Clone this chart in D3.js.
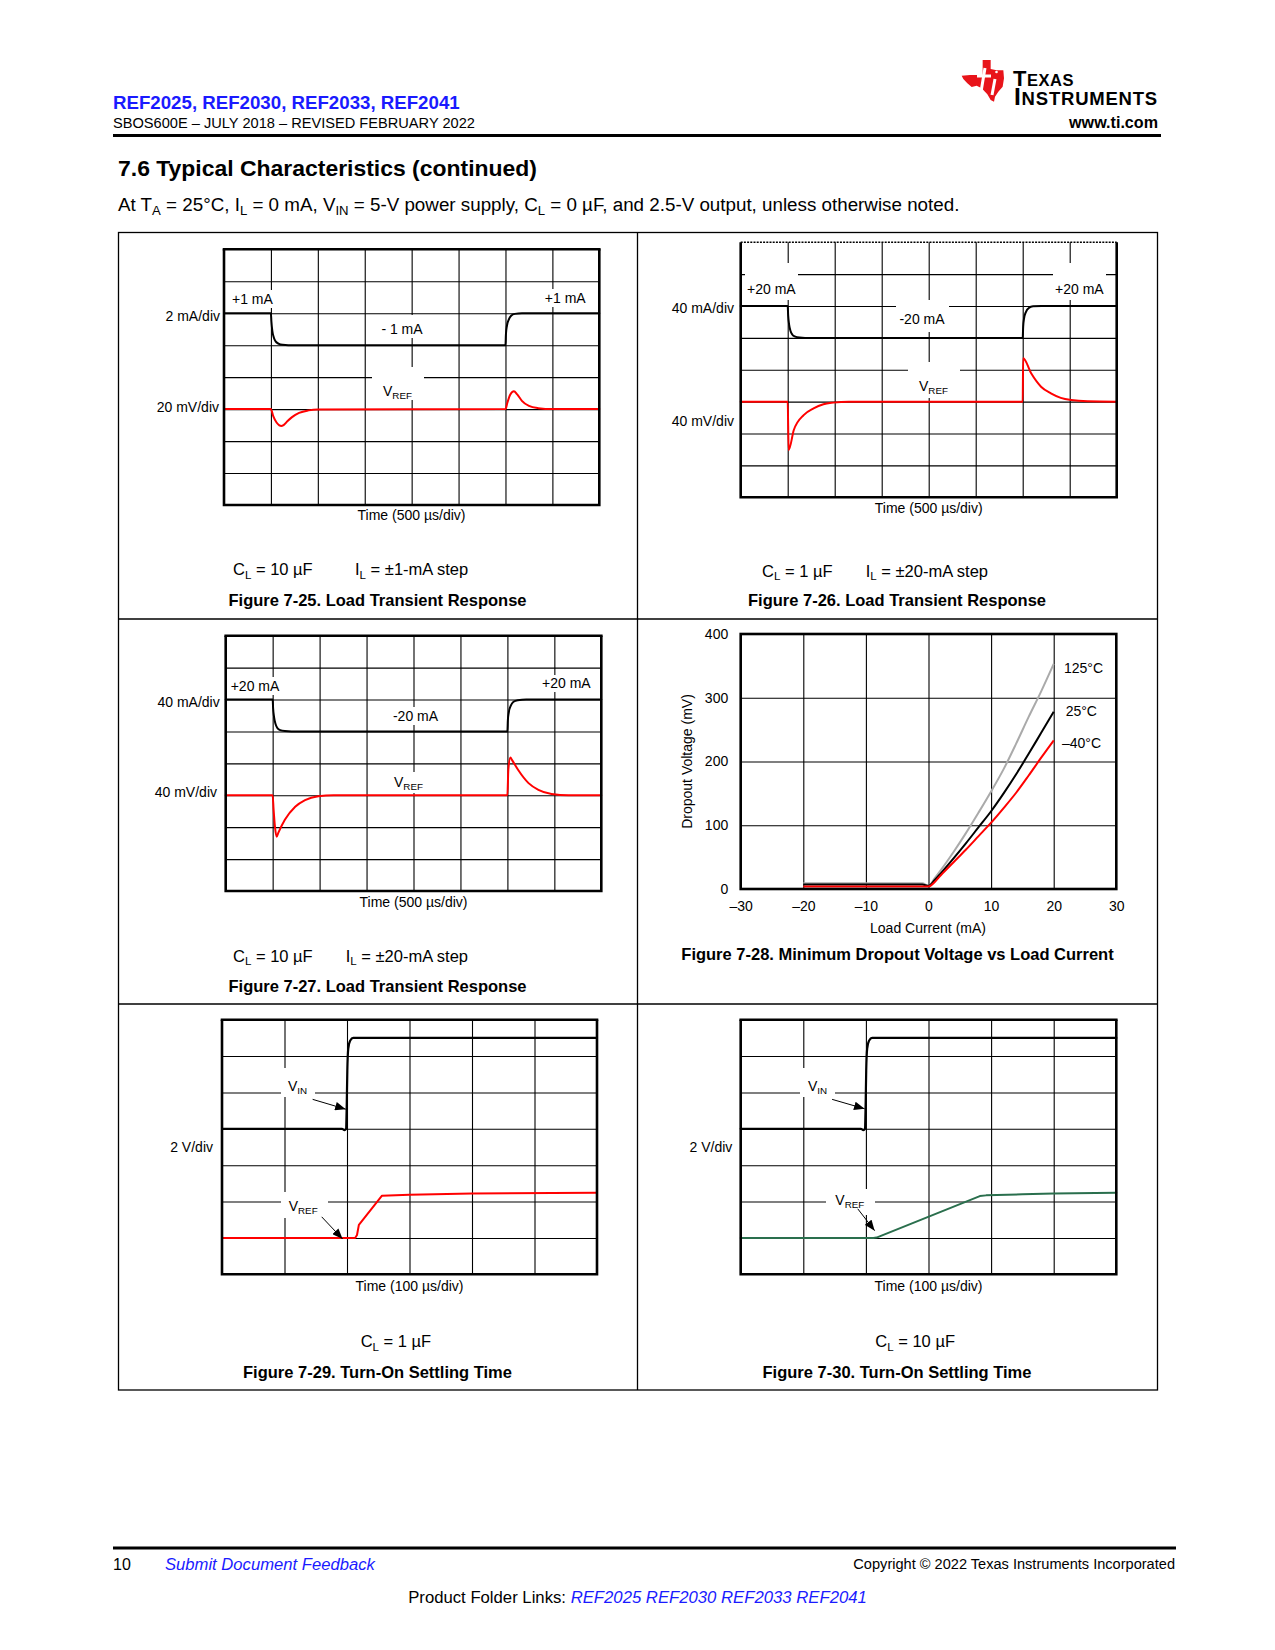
<!DOCTYPE html>
<html><head><meta charset="utf-8">
<script src="https://cdn.jsdelivr.net/npm/d3@7"></script>
<style>
body{margin:0;background:#fff}
svg{display:block}
text{font-family:"Liberation Sans",Arial,Helvetica,sans-serif;fill:#000}
</style>
</head><body>
<svg id="page" width="1275" height="1650"></svg>
<script>
// ---------------- DATA ----------------
// Scope traces: [time (div), level (div from bottom)]
const fig25Current = [[0,6],[1,6],[1.01,5.75],[1.03,5.45],[1.06,5.25],[1.1,5.12],[1.16,5.05],[1.25,5.01],[1.37,5],[6,5],[6.01,5.35],[6.03,5.6],[6.07,5.8],[6.12,5.92],[6.2,5.98],[6.35,6],[8,6]];
const fig25Vref = [[0,3],[1,3],[1.05,2.78],[1.12,2.58],[1.18,2.49],[1.22,2.47],[1.27,2.5],[1.35,2.62],[1.45,2.75],[1.6,2.88],[1.8,2.96],[2,2.99],[6,3],[6.04,3.2],[6.1,3.45],[6.18,3.56],[6.25,3.46],[6.35,3.26],[6.5,3.1],[6.7,3.03],[7,3],[8,3]];

const fig26Current = [[0,6],[1,6],[1.01,5.7],[1.03,5.42],[1.06,5.22],[1.1,5.1],[1.16,5.04],[1.25,5.01],[1.37,5],[6,5],[6.01,5.35],[6.03,5.62],[6.07,5.82],[6.13,5.94],[6.22,5.99],[6.4,6],[8,6]];
const fig26Vref = [[0,3],[1,3],[1.02,1.48],[1.13,2.11],[1.34,2.58],[1.55,2.79],[1.76,2.92],[1.97,2.97],[2.3,3],[6,3],[6.01,4.36],[6.18,3.89],[6.39,3.47],[6.6,3.26],[6.81,3.12],[7.03,3.05],[7.38,3.01],[8,3]];

const fig27Current = [[0,6],[1,6],[1.01,5.72],[1.03,5.45],[1.06,5.24],[1.1,5.11],[1.16,5.04],[1.26,5.01],[1.4,5],[6,5],[6.01,5.35],[6.03,5.6],[6.07,5.8],[6.13,5.93],[6.22,5.98],[6.4,6],[8,6]];
const fig27Vref = [[0,3],[1,3],[1.02,2.55],[1.05,2.0],[1.085,1.7],[1.12,1.82],[1.26,2.23],[1.48,2.64],[1.69,2.85],[1.97,2.97],[2.3,3],[6,3],[6.02,3.8],[6.064,4.18],[6.1,4.1],[6.23,3.79],[6.45,3.38],[6.66,3.17],[6.94,3.04],[7.3,3],[8,3]];

const fig29Vin = [[0,4],[1.92,4],[1.96,3.96],[1.985,4.0],[1.995,4.6],[2.005,5.6],[2.02,6.2],[2.05,6.42],[2.1,6.5],[6,6.5]];
const fig29Vref = [[0,1],[2.13,1],[2.16,1.08],[2.19,1.36],[2.56,2.16],[3,2.19],[4,2.22],[6,2.24]];

const fig30Vin = [[0,4],[1.92,4],[1.96,3.96],[1.985,4.0],[1.995,4.6],[2.005,5.6],[2.02,6.2],[2.05,6.42],[2.1,6.5],[6,6.5]];
const fig30Vref = [[0,1],[2.12,1],[2.17,1.01],[3.82,2.15],[3.92,2.17],[4.5,2.2],[5,2.22],[6,2.24]];

// Figure 7-28: dropout voltage (mV) vs load current (mA)
const loadCurrent  = [-20,-1,0,1,2,4,6,8,10,12,14,16,18,20];
const dropout125C  = [9,9,5,17,30,58,88,120,153,188,228,270,310,353];
const dropout25C   = [7,7,5,14,25,48,72,97,122,150,180,212,245,278];
const dropoutM40C  = [4,4,4,11,22,42,62,83,104,127,151,178,206,233];
const dropoutXTicks = [-30,-20,-10,0,10,20,30];
const dropoutXTickLabels = ['–30','–20','–10','0','10','20','30'];
const dropoutYTicks = [0,100,200,300,400];
const dropoutSeriesNames = ['125°C','25°C','–40°C'];

// ---------------- DRAWING ----------------
const svg = d3.select('#page');
svg.append('rect').attr('width',1275).attr('height',1650).attr('fill','#fff');
const defs = svg.append('defs');
defs.append('marker').attr('id','arrow').attr('viewBox','0 0 10 8')
  .attr('refX',10).attr('refY',4).attr('markerWidth',11).attr('markerHeight',8.5)
  .attr('markerUnits','userSpaceOnUse').attr('orient','auto')
  .append('path').attr('d','M0,0L10,4L0,8Z').attr('fill','#000');

const BLUE = '#1a1aff';

// rich text: segs = array of strings or [sub] arrays
function rich(parent, x, y, segs, o) {
  o = o || {};
  const t = parent.append('text').attr('x',x).attr('y',y)
    .attr('font-size', o.size || 14)
    .attr('text-anchor', o.anchor || 'start')
    .attr('font-weight', o.weight || 'normal');
  if (o.style) t.attr('font-style', o.style);
  let inSub = false;
  segs.forEach(s => {
    if (Array.isArray(s)) {
      t.append('tspan').attr('font-size','0.7em').attr('dy', inSub ? 0 : '0.32em').text(s[0]);
      inSub = true;
    } else {
      const sp = t.append('tspan').text(s);
      if (inSub) sp.attr('dy','-0.224em');
      inSub = false;
    }
  });
  if (o.fill) t.style('fill', o.fill);
  if (o.fit) {
    const w = t.node().getComputedTextLength();
    t.attr('font-size', (o.size || 14) * o.fit / w);
  }
  return t;
}

function scope(cfg) {
  const g = svg.append('g');
  const x = d3.scaleLinear().domain([0, cfg.cols]).range([cfg.x, cfg.x + cfg.w]);
  const y = d3.scaleLinear().domain([0, cfg.rows]).range([cfg.y + cfg.h, cfg.y]);
  const gx = g.append('g').attr('transform', `translate(0,${cfg.y + cfg.h})`)
    .call(d3.axisBottom(x).tickValues(d3.range(1, cfg.cols)).tickSize(-cfg.h).tickFormat(''));
  const gy = g.append('g').attr('transform', `translate(${cfg.x},0)`)
    .call(d3.axisLeft(y).tickValues(d3.range(1, cfg.rows)).tickSize(-cfg.w).tickFormat(''));
  [gx, gy].forEach(a => {
    a.select('.domain').remove();
    a.selectAll('line').attr('stroke', '#000').attr('stroke-width', 1.1);
  });
  (cfg.masks || []).forEach(m => g.append('rect').attr('x', m[0]).attr('y', m[1])
    .attr('width', m[2] - m[0]).attr('height', m[3] - m[1]).attr('fill', '#fff'));
  cfg.traces.forEach(t => {
    const line = d3.line().x(d => x(d[0])).y(d => y(d[1]))
      .curve(t.linear ? d3.curveLinear : d3.curveMonotoneX);
    g.append('path').attr('d', line(t.data)).attr('fill', 'none')
      .attr('stroke', t.color).attr('stroke-width', t.width || 2)
      .attr('stroke-linejoin', 'round').attr('stroke-linecap', 'round');
  });
  (cfg.arrows || []).forEach(a => g.append('line')
    .attr('x1', x(a[0])).attr('y1', y(a[1])).attr('x2', x(a[2])).attr('y2', y(a[3]))
    .attr('stroke', '#000').attr('stroke-width', 1).attr('marker-end', 'url(#arrow)'));
  // frame
  const fr = g.append('g').attr('stroke', '#000').attr('fill', 'none');
  const X0 = x(0), X1 = x(cfg.cols), Y0 = y(cfg.rows), Y1 = y(0);
  fr.append('path').attr('d', `M${X0},${Y0}L${X0},${Y1}L${X1},${Y1}L${X1},${Y0}`)
    .attr('stroke-width', 2.6).attr('stroke-linejoin', 'miter');
  if (cfg.dottedTop) {
    fr.append('line').attr('x1', X0).attr('x2', X1).attr('y1', Y0).attr('y2', Y0)
      .attr('stroke-width', 1.6).attr('stroke-dasharray', '2,1.2');
  } else {
    fr.append('line').attr('x1', X0 - 1.3).attr('x2', X1 + 1.3).attr('y1', Y0).attr('y2', Y0)
      .attr('stroke-width', 2.6);
  }
  (cfg.labels || []).forEach(l => rich(g, l.x, l.y, l.segs, {size: l.size || 14, anchor: l.anchor}));
  return g;
}

// ---------- header ----------
rich(svg, 113, 109, ['REF2025, REF2030, REF2033, REF2041'], {size: 17, weight: 'bold', fill: BLUE, fit: 347});
rich(svg, 113, 128, ['SBOS600E – JULY 2018 – REVISED FEBRUARY 2022'], {size: 13.5, fit: 362});
svg.append('line').attr('x1', 113).attr('x2', 1161).attr('y1', 135.5).attr('y2', 135.5)
  .attr('stroke', '#000').attr('stroke-width', 3);
// TI logo
(function () {
  const pts = [[98,15],[122,15],[122,42],[140,46],[160,46],[162,70],[158,95],[145,110],[135,125],[132,140],[122,135],[112,118],[95,100],[80,92],[65,96],[52,85],[40,72],[35,62],[60,60],[98,60]];
  const p = pts.map(d => [950 + d[0] / 3, 55 + d[1] / 3]);
  svg.append('path').attr('d', 'M' + p.join('L') + 'Z').attr('fill', '#e8141a');
  // white "ti" cut-outs drawn as strokes
  const w = svg.append('g').attr('stroke', '#fff').attr('stroke-width', 3).attr('fill', 'none').attr('stroke-linecap', 'butt');
  w.append('path').attr('d', 'M985,68 L981,92 Q980,96 984,95');
  w.append('path').attr('d', 'M977,76 L991,76');
  w.append('path').attr('d', 'M995,79 L992,95');
  w.append('circle').attr('cx', 996.5).attr('cy', 72).attr('r', 1.3).attr('fill', '#fff').attr('stroke', 'none');

  const t = svg.append('text').attr('font-weight', 'bold');
  const l1 = t.append('tspan').attr('x', 1013).attr('y', 86);
  l1.append('tspan').attr('font-size', 22).text('T');
  l1.append('tspan').attr('font-size', 16.5).text('EXAS');
  const l2 = t.append('tspan').attr('x', 1014).attr('y', 104.5);
  l2.append('tspan').attr('font-size', 24.5).text('I');
  l2.append('tspan').attr('font-size', 18.5).text('NSTRUMENTS');
  [[l1, 61, 5], [l2, 144, 11]].forEach(([el, target, n]) => {
    const wd = el.node().getComputedTextLength();
    el.attr('letter-spacing', (target - wd) / n);
  });
})();
rich(svg, 1158, 128, ['www.ti.com'], {size: 15, weight: 'bold', anchor: 'end', fit: 89});

rich(svg, 118, 175.5, ['7.6 Typical Characteristics (continued)'], {size: 21, weight: 'bold', fit: 419});
rich(svg, 118, 211, ['At T', ['A'], ' = 25°C, I', ['L'], ' = 0 mA, V', ['IN'], ' = 5-V power supply, C', ['L'], ' = 0 µF, and 2.5-V output, unless otherwise noted.'], {size: 16.5, fit: 842});

// ---------- layout table ----------
const frame = svg.append('g').attr('stroke', '#000').attr('stroke-width', 1.3).attr('fill', 'none');
frame.append('rect').attr('x', 118.5).attr('y', 232.5).attr('width', 1039).attr('height', 1157.5);
frame.append('line').attr('x1', 637.5).attr('x2', 637.5).attr('y1', 232.5).attr('y2', 1390);
frame.append('line').attr('x1', 118.5).attr('x2', 1157.5).attr('y1', 619).attr('y2', 619);
frame.append('line').attr('x1', 118.5).attr('x2', 1157.5).attr('y1', 1004).attr('y2', 1004);

// ---------- Figure 7-25 ----------
scope({x: 224, y: 249.3, w: 375.3, h: 255.7, cols: 8, rows: 8,
  masks: [[230, 290, 276, 308], [543, 289, 589, 307], [378, 315, 426, 338], [372, 367, 424, 400]],
  traces: [{data: fig25Current, color: '#000'}, {data: fig25Vref, color: '#ff0000'}],
  labels: [
    {x: 220, y: 320.5, anchor: 'end', segs: ['2 mA/div']},
    {x: 219, y: 411.5, anchor: 'end', segs: ['20 mV/div']},
    {x: 232, y: 303.5, segs: ['+1 mA']},
    {x: 585.7, y: 303, anchor: 'end', segs: ['+1 mA']},
    {x: 402, y: 333.5, anchor: 'middle', segs: ['- 1 mA']},
    {x: 383, y: 395.5, segs: ['V', ['REF']]}
  ]});
rich(svg, 411.5, 520, ['Time (500 µs/div)'], {size: 14, anchor: 'middle'});
rich(svg, 233, 575, ['C', ['L'], ' = 10 µF'], {size: 16.5});
rich(svg, 355, 575, ['I', ['L'], ' = ±1-mA step'], {size: 16.5});
rich(svg, 377.5, 605.5, ['Figure 7-25. Load Transient Response'], {size: 16.5, weight: 'bold', anchor: 'middle'});

// ---------- Figure 7-26 ----------
scope({x: 740.7, y: 242.3, w: 376, h: 255, cols: 8, rows: 8, dottedTop: true,
  masks: [[745, 263, 798, 300], [1053, 263, 1106, 300], [896, 300, 949, 332], [908, 362, 960, 398]],
  traces: [{data: fig26Current, color: '#000'}, {data: fig26Vref, color: '#ff0000'}],
  labels: [
    {x: 734, y: 313, anchor: 'end', segs: ['40 mA/div']},
    {x: 734, y: 426, anchor: 'end', segs: ['40 mV/div']},
    {x: 747, y: 293.5, segs: ['+20 mA']},
    {x: 1103.7, y: 293.5, anchor: 'end', segs: ['+20 mA']},
    {x: 922, y: 323.5, anchor: 'middle', segs: ['-20 mA']},
    {x: 919, y: 391, segs: ['V', ['REF']]}
  ]});
rich(svg, 928.7, 513, ['Time (500 µs/div)'], {size: 14, anchor: 'middle'});
rich(svg, 762, 576.5, ['C', ['L'], ' = 1 µF'], {size: 16.5});
rich(svg, 865.7, 576.5, ['I', ['L'], ' = ±20-mA step'], {size: 16.5});
rich(svg, 897, 606, ['Figure 7-26. Load Transient Response'], {size: 16.5, weight: 'bold', anchor: 'middle'});

// ---------- Figure 7-27 ----------
scope({x: 225.7, y: 635.7, w: 375.6, h: 255.3, cols: 8, rows: 8,
  masks: [[229, 677, 279, 695], [541, 675, 593, 692], [391, 707, 441, 725], [392, 772, 426, 793]],
  traces: [{data: fig27Current, color: '#000'}, {data: fig27Vref, color: '#ff0000'}],
  labels: [
    {x: 219.7, y: 706.5, anchor: 'end', segs: ['40 mA/div']},
    {x: 217, y: 797, anchor: 'end', segs: ['40 mV/div']},
    {x: 230.7, y: 690.5, segs: ['+20 mA']},
    {x: 590.7, y: 688, anchor: 'end', segs: ['+20 mA']},
    {x: 415.5, y: 720.5, anchor: 'middle', segs: ['-20 mA']},
    {x: 394, y: 786.5, segs: ['V', ['REF']]}
  ]});
rich(svg, 413.5, 907, ['Time (500 µs/div)'], {size: 14, anchor: 'middle'});
rich(svg, 233, 961.5, ['C', ['L'], ' = 10 µF'], {size: 16.5});
rich(svg, 345.7, 961.5, ['I', ['L'], ' = ±20-mA step'], {size: 16.5});
rich(svg, 377.5, 991.5, ['Figure 7-27. Load Transient Response'], {size: 16.5, weight: 'bold', anchor: 'middle'});

// ---------- Figure 7-28 ----------
(function () {
  const P = {x: 740.7, y: 634, w: 375.6, h: 255};
  const g = svg.append('g');
  const x = d3.scaleLinear().domain([-30, 30]).range([P.x, P.x + P.w]);
  const y = d3.scaleLinear().domain([0, 400]).range([P.y + P.h, P.y]);
  const grid = g.append('g');
  grid.append('g').attr('transform', `translate(0,${P.y + P.h})`)
    .call(d3.axisBottom(x).tickValues(dropoutXTicks.slice(1, -1)).tickSize(-P.h).tickFormat(''));
  grid.append('g').attr('transform', `translate(${P.x},0)`)
    .call(d3.axisLeft(y).tickValues(dropoutYTicks.slice(1, -1)).tickSize(-P.w).tickFormat(''));
  grid.selectAll('.domain').remove();
  grid.selectAll('line').attr('stroke', '#000').attr('stroke-width', 1.1);

  const xa = g.append('g').attr('transform', `translate(0,${P.y + P.h})`)
    .call(d3.axisBottom(x).tickValues(dropoutXTicks).tickSize(0).tickPadding(12)
      .tickFormat((d, i) => dropoutXTickLabels[i]));
  const ya = g.append('g').attr('transform', `translate(${P.x},0)`)
    .call(d3.axisLeft(y).tickValues(dropoutYTicks).tickSize(0).tickPadding(12.5));
  [xa, ya].forEach(a => {
    a.select('.domain').remove();
    a.selectAll('text').attr('font-size', 14).attr('font-family', '"Liberation Sans",Arial,sans-serif').style('fill', '#000');
  });

  const series = [
    {vals: dropout125C, color: '#aaaaaa'},
    {vals: dropout25C, color: '#000000'},
    {vals: dropoutM40C, color: '#ff0000'}
  ];
  const line = d3.line().x(d => x(d[0])).y(d => y(d[1])).curve(d3.curveMonotoneX);
  series.forEach(s => g.append('path').attr('d', line(loadCurrent.map((c, i) => [c, s.vals[i]])))
    .attr('fill', 'none').attr('stroke', s.color).attr('stroke-width', 2));

  g.append('rect').attr('x', P.x).attr('y', P.y).attr('width', P.w).attr('height', P.h)
    .attr('fill', 'none').attr('stroke', '#000').attr('stroke-width', 2.6);

  const lblPos = [[1064, 673.3], [1065.7, 716], [1062, 747.7]];
  dropoutSeriesNames.forEach((n, i) => rich(g, lblPos[i][0], lblPos[i][1], [n], {size: 14}));

  g.append('text').attr('transform', `translate(691.5,${P.y + P.h / 2}) rotate(-90)`)
    .attr('text-anchor', 'middle').attr('font-size', 14).text('Dropout Voltage (mV)');
  rich(g, 928, 932.5, ['Load Current (mA)'], {size: 14, anchor: 'middle'});
  rich(g, 897.5, 959.5, ['Figure 7-28. Minimum Dropout Voltage vs Load Current'], {size: 16.5, weight: 'bold', anchor: 'middle'});
})();

// ---------- Figure 7-29 ----------
scope({x: 222, y: 1019.7, w: 375, h: 254.6, cols: 6, rows: 7,
  masks: [[281, 1068, 315, 1097], [281, 1192, 328, 1218]],
  traces: [{data: fig29Vin, color: '#000', width: 2.2}, {data: fig29Vref, color: '#ff0000', width: 2, linear: true}],
  arrows: [[1.45, 4.81, 1.98, 4.54], [1.595, 1.58, 1.93, 0.97]],
  labels: [
    {x: 213, y: 1152, anchor: 'end', segs: ['2 V/div']},
    {x: 288, y: 1090.5, segs: ['V', ['IN']]},
    {x: 288.7, y: 1210.5, segs: ['V', ['REF']]}
  ]});
rich(svg, 409.5, 1290.5, ['Time (100 µs/div)'], {size: 14, anchor: 'middle'});
rich(svg, 360.7, 1347, ['C', ['L'], ' = 1 µF'], {size: 16.5});
rich(svg, 377.5, 1377.5, ['Figure 7-29. Turn-On Settling Time'], {size: 16.5, weight: 'bold', anchor: 'middle'});

// ---------- Figure 7-30 ----------
scope({x: 740.7, y: 1019.7, w: 375.6, h: 254.6, cols: 6, rows: 7,
  masks: [[800, 1068, 835, 1097], [826, 1189, 875, 1215]],
  traces: [{data: fig30Vin, color: '#000', width: 2.2}, {data: fig30Vref, color: '#2a6f4d', width: 2, linear: true}],
  arrows: [[1.46, 4.81, 1.98, 4.55], [1.87, 1.8, 2.14, 1.2]],
  labels: [
    {x: 732.3, y: 1152, anchor: 'end', segs: ['2 V/div']},
    {x: 808, y: 1090.5, segs: ['V', ['IN']]},
    {x: 835.3, y: 1204.5, segs: ['V', ['REF']]}
  ]});
rich(svg, 928.5, 1290.5, ['Time (100 µs/div)'], {size: 14, anchor: 'middle'});
rich(svg, 875.3, 1347, ['C', ['L'], ' = 10 µF'], {size: 16.5});
rich(svg, 897, 1377.5, ['Figure 7-30. Turn-On Settling Time'], {size: 16.5, weight: 'bold', anchor: 'middle'});

// ---------- footer ----------
svg.append('line').attr('x1', 113).attr('x2', 1176).attr('y1', 1548).attr('y2', 1548)
  .attr('stroke', '#000').attr('stroke-width', 3);
rich(svg, 113, 1570, ['10'], {size: 16});
rich(svg, 165, 1570, ['Submit Document Feedback'], {size: 16, style: 'italic', fill: BLUE, fit: 210});
rich(svg, 1175, 1569, ['Copyright © 2022 Texas Instruments Incorporated'], {size: 14.5, anchor: 'end', fit: 322});
(function () {
  const t = svg.append('text').attr('x', 637.5).attr('y', 1603).attr('font-size', 16).attr('text-anchor', 'middle');
  t.append('tspan').text('Product Folder Links: ');
  t.append('tspan').attr('font-style', 'italic').style('fill', BLUE).text('REF2025 REF2030 REF2033 REF2041');
  const w = t.node().getComputedTextLength();
  t.attr('font-size', 16 * 459 / w);
})();
</script>
</body></html>
